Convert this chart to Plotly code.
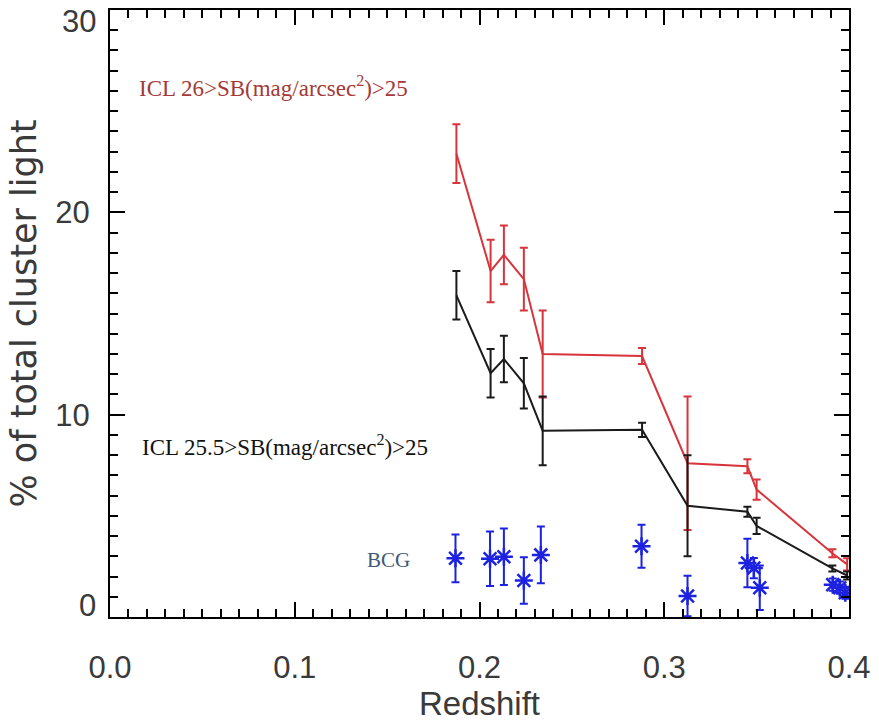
import plotly.graph_objects as go

# Redshift of each cluster and its intracluster light fraction (% of total cluster light)
z_icl = [0.1875, 0.206, 0.2132, 0.224, 0.2342, 0.288, 0.3126, 0.345, 0.350, 0.391, 0.399]

icl26 = [22.9, 17.1, 17.9, 16.7, 13.0, 12.9, 7.6, 7.45, 6.3, 3.15, 2.6]
icl26_err = [1.45, 1.55, 1.45, 1.55, 2.15, 0.4, 3.3, 0.35, 0.5, 0.2, 0.3]

icl255 = [15.9, 12.05, 12.75, 11.55, 9.2, 9.25, 5.5, 5.2, 4.5, 2.4, 2.05]
icl255_err = [1.2, 1.2, 1.15, 1.25, 1.7, 0.35, 2.5, 0.25, 0.4, 0.15, 0.2]

# Brightest cluster galaxy fraction
z_bcg = [0.187, 0.2057, 0.2132, 0.224, 0.2332, 0.2877, 0.3126, 0.345, 0.3485, 0.3517,
         0.3912, 0.395, 0.398]
bcg = [2.9, 2.88, 2.98, 1.8, 3.07, 3.5, 1.04, 2.67, 2.42, 1.45, 1.6, 1.45, 1.2]
bcg_err = [1.18, 1.35, 1.4, 1.15, 1.4, 1.06, 1.0, 1.2, 0.5, 1.1, 0.3, 0.3, 0.3]

x_ticks = [0.0, 0.1, 0.2, 0.3, 0.4]
y_ticks = [10, 20]
y_edge_labels = [0, 30]

RED = "#d8343c"
BLACK = "#1a1a1a"
BLUE = "#1c22e0"
TICK_GREY = "#3a3a3a"

fig = go.Figure()

fig.add_trace(go.Scatter(
    x=z_icl, y=icl26, mode="lines",
    line=dict(color=RED, width=2),
    error_y=dict(type="data", array=icl26_err, color=RED, thickness=2, width=4),
    showlegend=False,
))

fig.add_trace(go.Scatter(
    x=z_icl, y=icl255, mode="lines",
    line=dict(color=BLACK, width=2),
    error_y=dict(type="data", array=icl255_err, color=BLACK, thickness=2, width=4),
    showlegend=False,
))

fig.add_trace(go.Scatter(
    x=z_bcg, y=bcg, mode="markers",
    marker=dict(symbol="asterisk-open", size=15, color=BLUE,
                line=dict(color=BLUE, width=2.5)),
    error_y=dict(type="data", array=bcg_err, color=BLUE, thickness=2, width=4),
    showlegend=False,
))

fig.add_annotation(x=0.0145, y=26.2, xref="x", yref="y", xanchor="left", yanchor="middle",
                   text="ICL 26>SB(mag/arcsec<sup>2</sup>)>25", showarrow=False,
                   font=dict(family="Liberation Serif", size=23, color="#a43a38"))
fig.add_annotation(x=0.016, y=8.5, xref="x", yref="y", xanchor="left", yanchor="middle",
                   text="ICL 25.5>SB(mag/arcsec<sup>2</sup>)>25", showarrow=False,
                   font=dict(family="Liberation Serif", size=23, color="#111111"))
fig.add_annotation(x=0.138, y=2.8, xref="x", yref="y", xanchor="left", yanchor="middle",
                   text="BCG", showarrow=False,
                   font=dict(family="Liberation Serif", size=21, color="#3c5a78"))

# The 0 and 30 labels sit just inside the frame ends
for v, ypos in zip(y_edge_labels, [0.55, 29.45]):
    fig.add_annotation(x=0, y=ypos, xref="paper", yref="y", xanchor="right", yanchor="middle",
                       xshift=-12, text=str(v), showarrow=False,
                       font=dict(family="Liberation Sans", size=31, color=TICK_GREY))

axis_common = dict(
    showline=True, linecolor="black", linewidth=2, mirror="allticks",
    ticks="inside", ticklen=15, tickwidth=2, tickcolor="black",
    showgrid=False, zeroline=False,
    tickfont=dict(family="Liberation Sans", size=31, color=TICK_GREY),
)

fig.update_xaxes(
    range=[0, 0.4], tickvals=x_ticks, ticktext=[f"{v:.1f}" for v in x_ticks],
    minor=dict(dtick=0.01, ticks="inside", ticklen=8, tickwidth=1.5, tickcolor="black"),
    ticklabelstandoff=22,
    title=dict(text="Redshift", standoff=6,
               font=dict(family="Liberation Sans", size=33, color=TICK_GREY)),
    **axis_common,
)
fig.update_yaxes(
    range=[0, 30], tickvals=y_ticks, ticktext=[str(v) for v in y_ticks],
    minor=dict(dtick=1, ticks="inside", ticklen=8, tickwidth=1.5, tickcolor="black"),
    ticklabelstandoff=12,
    title=dict(text="% of total cluster light", standoff=8,
               font=dict(family="DejaVu Sans", size=35, color=TICK_GREY)),
    **axis_common,
)

fig.update_layout(
    width=879, height=722,
    margin=dict(l=110, r=26, t=8, b=99),
    plot_bgcolor="white", paper_bgcolor="white",
)

fig.write_html("out.html")
